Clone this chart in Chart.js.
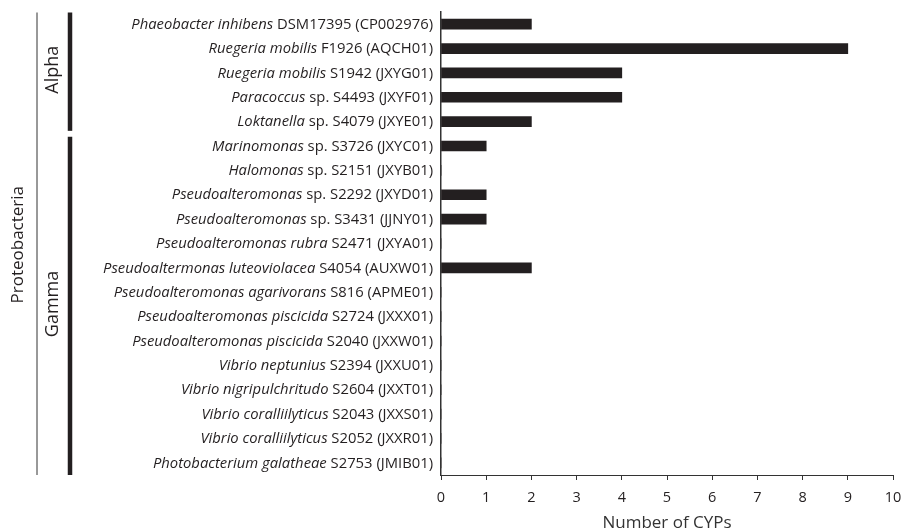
<!DOCTYPE html>
<html>
<head>
<meta charset="utf-8">
<script src="https://cdn.jsdelivr.net/npm/chart.js@4"></script>
<style>
html,body{margin:0;padding:0;background:#fff;}
#wrap{width:903px;height:531px;position:relative;}
</style>
</head>
<body>
<div id="wrap"><canvas id="c" width="903" height="531"></canvas></div>
<script>
const speciesNames = [
  "Phaeobacter inhibens", "Ruegeria mobilis", "Ruegeria mobilis", "Paracoccus", "Loktanella",
  "Marinomonas", "Halomonas", "Pseudoalteromonas", "Pseudoalteromonas", "Pseudoalteromonas rubra",
  "Pseudoaltermonas luteoviolacea", "Pseudoalteromonas agarivorans", "Pseudoalteromonas piscicida",
  "Pseudoalteromonas piscicida", "Vibrio neptunius", "Vibrio nigripulchritudo", "Vibrio coralliilyticus",
  "Vibrio coralliilyticus", "Photobacterium galatheae"
];
const strainIds = [
  "DSM17395 (CP002976)", "F1926 (AQCH01)", "S1942 (JXYG01)", "sp. S4493 (JXYF01)", "sp. S4079 (JXYE01)",
  "sp. S3726 (JXYC01)", "sp. S2151 (JXYB01)", "sp. S2292 (JXYD01)", "sp. S3431 (JJNY01)", "S2471 (JXYA01)",
  "S4054 (AUXW01)", "S816 (APME01)", "S2724 (JXXX01)", "S2040 (JXXW01)", "S2394 (JXXU01)",
  "S2604 (JXXT01)", "S2043 (JXXS01)", "S2052 (JXXR01)", "S2753 (JMIB01)"
];
const categories = speciesNames.map((s, i) => s + " " + strainIds[i]);
const cypCounts = [2, 9, 4, 4, 2, 1, 0, 1, 1, 0, 2, 0, 0, 0, 0, 0, 0, 0, 0];
const xTicks = [0, 1, 2, 3, 4, 5, 6, 7, 8, 9, 10];
const groupNames = ["Alpha", "Gamma"];
const groupFirst = [0, 5];
const groupLast = [4, 18];
const phylumName = "Proteobacteria";
const xTitle = "Number of CYPs";

const TXT = '#231f20';
const FONT = "'Open Sans', sans-serif";
const LABEL_SIZE = 14.8;

const labelPlugin = {
  id: 'labels',
  afterDraw(chart) {
    const ctx = chart.ctx;
    const y = chart.scales.y;
    const area = chart.chartArea;
    ctx.save();
    ctx.fillStyle = TXT;
    ctx.textBaseline = 'middle';
    const xr = area.left - 8;
    categories.forEach((c, i) => {
      const py = y.getPixelForValue(i) + 0.5;
      ctx.font = LABEL_SIZE + "px " + FONT;
      const w = ctx.measureText(" " + strainIds[i]).width;
      ctx.textAlign = 'right';
      ctx.fillText(" " + strainIds[i], xr, py);
      ctx.font = "italic " + LABEL_SIZE + "px " + FONT;
      ctx.fillText(speciesNames[i], xr - w, py);
    });
    // group brackets
    const half = (y.getPixelForValue(1) - y.getPixelForValue(0)) / 2;
    const top = area.top + 0.5;
    const bottom = area.bottom;
    ctx.strokeStyle = '#333';
    ctx.lineWidth = 1;
    ctx.beginPath();
    ctx.moveTo(37, top);
    ctx.lineTo(37, bottom);
    ctx.stroke();
    ctx.font = "17px " + FONT;
    ctx.textAlign = 'center';
    ctx.save();
    ctx.translate(18, (top + bottom) / 2 + 1);
    ctx.rotate(-Math.PI / 2);
    ctx.fillText(phylumName, 0, 0);
    ctx.restore();
    ctx.font = "18px " + FONT;
    groupNames.forEach((g, k) => {
      let y0 = y.getPixelForValue(groupFirst[k]) - half;
      let y1 = y.getPixelForValue(groupLast[k]) + half;
      if (k > 0) y0 += 3; else y0 = top;
      if (k < groupNames.length - 1) y1 -= 3; else y1 = bottom;
      ctx.strokeStyle = '#231f20';
      ctx.lineWidth = 4.5;
      ctx.beginPath();
      ctx.moveTo(70, y0);
      ctx.lineTo(70, y1);
      ctx.stroke();
      ctx.save();
      ctx.translate(53, (y0 + y1) / 2 - 2);
      ctx.rotate(-Math.PI / 2);
      ctx.fillText(g, 0, 0);
      ctx.restore();
    });
    ctx.restore();
  }
};

new Chart(document.getElementById('c'), {
  type: 'bar',
  data: {
    labels: categories,
    datasets: [{
      data: cypCounts,
      backgroundColor: '#231f20',
      borderWidth: 0,
      barThickness: 10
    }]
  },
  options: {
    indexAxis: 'y',
    responsive: false,
    animation: false,
    events: [],
    layout: { padding: { top: 12, right: 10, left: 0, bottom: 0 } },
    plugins: { legend: { display: false }, tooltip: { enabled: false } },
    scales: {
      x: {
        min: 0, max: 10,
        afterBuildTicks(scale) { scale.ticks = xTicks.map(v => ({ value: v })); },
        afterFit(scale) { scale.height = 56; scale.paddingRight = 0; scale.paddingLeft = 0; },
        grid: { display: true, drawOnChartArea: false, drawTicks: true, tickLength: 5, color: '#333', lineWidth: 1 },
        border: { display: true, color: '#333', width: 1 },
        ticks: { color: TXT, font: { family: FONT, size: 14.5 }, padding: 9, maxRotation: 0 },
        title: { display: true, text: xTitle, color: '#333', font: { family: FONT, size: 17 }, padding: { top: 0, bottom: -2 } }
      },
      y: {
        afterFit(scale) { scale.width = 441; },
        grid: { display: false, drawOnChartArea: false, drawTicks: false },
        border: { display: true, color: '#333', width: 1.5 },
        ticks: { display: false }
      }
    }
  },
  plugins: [labelPlugin]
});
</script>
</body>
</html>
